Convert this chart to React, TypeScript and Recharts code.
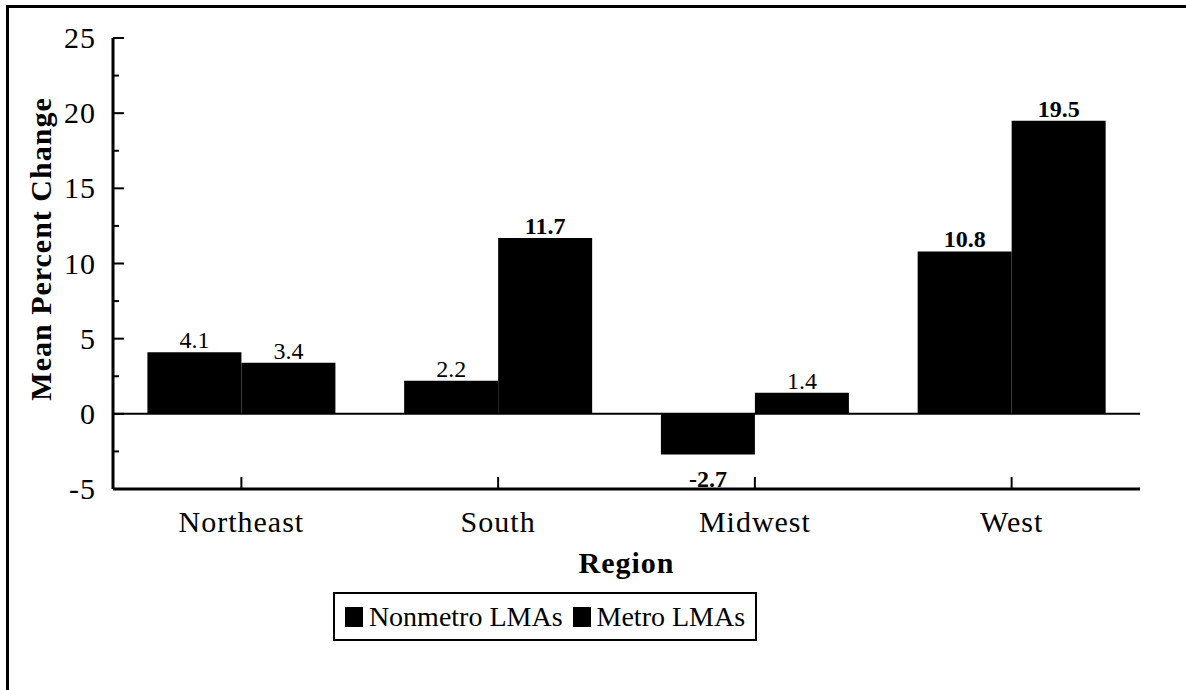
import React from 'react'
import {
  BarChart,
  Bar,
  XAxis,
  YAxis,
  ReferenceLine,
  LabelList,
} from 'recharts'

const regions = ['Northeast', 'South', 'Midwest', 'West']
const nonmetro = [4.1, 2.2, -2.7, 10.8]
const metro = [3.4, 11.7, 1.4, 19.5]
const yTicks = [-5, -2.5, 0, 2.5, 5, 7.5, 10, 12.5, 15, 17.5, 20, 22.5, 25]
const seriesNames = ['Nonmetro LMAs', 'Metro LMAs']

const data = regions.map((region, i) => ({
  region,
  nonmetro: nonmetro[i],
  metro: metro[i],
}))

const FONT = '"Liberation Serif", "Times New Roman", serif'

const YTick = ({ x, y, payload }: any) => {
  const major = payload.value % 5 === 0
  // ticks point inward from the axis line
  return (
    <g>
      <line x1={x} x2={x + (major ? 11 : 6)} y1={y} y2={y} stroke="#000" strokeWidth={2} />
      {major && (
        <text x={x - 17} y={y} dy={10} textAnchor="end" fontSize={30} letterSpacing={1} fontFamily={FONT} fill="#000">
          {payload.value}
        </text>
      )}
    </g>
  )
}

const XTick = ({ x, y, payload }: any) => (
  <g>
    <line x1={x} x2={x} y1={y} y2={y - 12} stroke="#000" strokeWidth={2} />
    <text x={x} y={y + 43} textAnchor="middle" fontSize={30} letterSpacing={1} fontFamily={FONT} fill="#000">
      {payload.value}
    </text>
  </g>
)

const BarValue = (props: any) => {
  const { x, y, width, height, value } = props
  const neg = value < 0
  const bold = neg || value >= 10
  const top = Math.min(y, y + height)
  const bottom = Math.max(y, y + height)
  const ty = neg ? bottom + 33 : top - 4
  return (
    <text
      x={x + width / 2}
      y={ty}
      textAnchor="middle"
      fontSize={24}
      fontWeight={bold ? 'bold' : 'normal'}
      fontFamily={FONT}
      fill="#000"
    >
      {value}
    </text>
  )
}

export default function App() {
  return (
    <div style={{ position: 'absolute', left: 0, top: 0, width: 1186, height: 690, background: '#fff' }}>
      <div
        style={{
          position: 'absolute',
          left: 6,
          top: 5,
          width: 1180,
          height: 685,
          borderTop: '3px solid #000',
          borderLeft: '3px solid #000',
        }}
      />
      <div style={{ position: 'absolute', left: 0, top: 0 }}>
        <BarChart
          width={1186}
          height={690}
          data={data}
          margin={{ top: 38, right: 46, bottom: 121, left: 53 }}
          barCategoryGap="13.4%"
          barGap={0}
        >
          <XAxis
            dataKey="region"
            axisLine={{ stroke: '#000', strokeWidth: 3 }}
            tickLine={false}
            tickSize={0}
            tickMargin={0}
            tick={<XTick />}
            height={80}
            label={{
              content: ({ viewBox }: any) => (
                <text
                  x={viewBox.x + viewBox.width / 2}
                  y={viewBox.y + 84}
                  textAnchor="middle"
                  fontSize={30}
                  fontWeight="bold"
                  letterSpacing={1}
                  fontFamily={FONT}
                  fill="#000"
                >
                  Region
                </text>
              ),
            }}
          />
          <XAxis xAxisId="top" dataKey="region" orientation="top" height={0} tick={false} tickLine={false} axisLine={{ stroke: '#000', strokeWidth: 3 }} />
          <YAxis
            domain={[-5, 25]}
            ticks={yTicks}
            interval={0}
            width={60}
            axisLine={{ stroke: '#000', strokeWidth: 3 }}
            tickLine={false}
            tickSize={0}
            tickMargin={0}
            tick={<YTick />}
            label={{
              content: () => (
                <text
                  x={51}
                  y={249}
                  transform="rotate(-90, 51, 249)"
                  textAnchor="middle"
                  fontSize={30}
                  fontWeight="bold"
                  letterSpacing={1}
                  fontFamily={FONT}
                  fill="#000"
                >
                  Mean Percent Change
                </text>
              ),
            }}
          />
          <YAxis yAxisId="right" orientation="right" domain={[-5, 25]} width={0} tick={false} tickLine={false} axisLine={{ stroke: '#000', strokeWidth: 3 }} />
          <ReferenceLine y={0} stroke="#000" strokeWidth={2} />
          <Bar dataKey="nonmetro" name={seriesNames[0]} fill="#000" isAnimationActive={false}>
            <LabelList dataKey="nonmetro" content={<BarValue />} />
          </Bar>
          <Bar dataKey="metro" name={seriesNames[1]} fill="#000" isAnimationActive={false}>
            <LabelList dataKey="metro" content={<BarValue />} />
          </Bar>
        </BarChart>
      </div>
      <div
        style={{
          position: 'absolute',
          left: 333,
          top: 592,
          boxSizing: 'border-box',
          width: 424,
          height: 49,
          border: '2px solid #000',
          display: 'flex',
          alignItems: 'center',
          justifyContent: 'center',
          fontFamily: FONT,
          fontSize: 28,
          color: '#000',
        }}
      >
        {seriesNames.map((name, i) => (
          <span key={name} style={{ display: 'flex', alignItems: 'center', marginLeft: i ? 10 : 0 }}>
            <span style={{ width: 18, height: 20, background: '#000', marginRight: 6, display: 'inline-block' }} />
            {name}
          </span>
        ))}
      </div>
    </div>
  )
}
